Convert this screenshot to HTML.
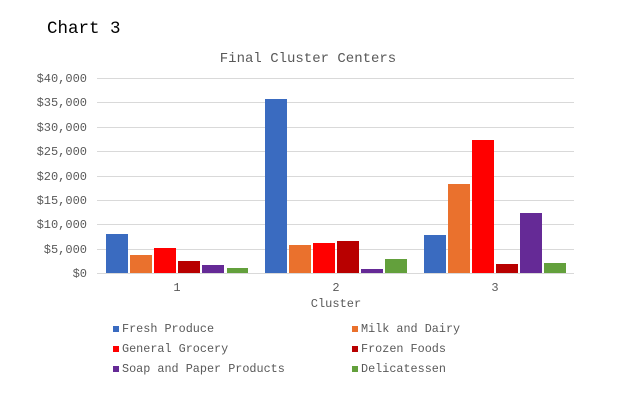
<!DOCTYPE html>
<html><head><meta charset="utf-8"><style>
html,body{margin:0;padding:0;background:#fff;}
svg{display:block;font-family:"Liberation Mono",monospace;}
</style></head><body>
<svg width="621" height="413" viewBox="0 0 621 413">
<rect width="621" height="413" fill="#fff"/>
<text x="47" y="33" font-size="17.5" fill="#000">Chart 3</text>
<text x="308" y="62" font-size="14" fill="#595959" text-anchor="middle">Final Cluster Centers</text>
<g stroke="#d9d9d9" stroke-width="1">
<line x1="97" x2="574" y1="78.5" y2="78.5"/>
<line x1="97" x2="574" y1="102.5" y2="102.5"/>
<line x1="97" x2="574" y1="127.5" y2="127.5"/>
<line x1="97" x2="574" y1="151.5" y2="151.5"/>
<line x1="97" x2="574" y1="176.5" y2="176.5"/>
<line x1="97" x2="574" y1="200.5" y2="200.5"/>
<line x1="97" x2="574" y1="224.5" y2="224.5"/>
<line x1="97" x2="574" y1="249.5" y2="249.5"/>
<line x1="97" x2="574" y1="273.5" y2="273.5"/>
</g>
<g font-size="12" fill="#595959" text-anchor="end">
<text x="87" y="82">$40,000</text>
<text x="87" y="106">$35,000</text>
<text x="87" y="131">$30,000</text>
<text x="87" y="155">$25,000</text>
<text x="87" y="180">$20,000</text>
<text x="87" y="204">$15,000</text>
<text x="87" y="228">$10,000</text>
<text x="87" y="253">$5,000</text>
<text x="87" y="277">$0</text>
</g>
<g>
<rect x="106" y="234" width="22" height="39" fill="#3a6bc0"/>
<rect x="130" y="255" width="22" height="18" fill="#ea712d"/>
<rect x="154" y="248" width="22" height="25" fill="#ff0000"/>
<rect x="178" y="261" width="22" height="12" fill="#b80000"/>
<rect x="202" y="265" width="22" height="8" fill="#652a96"/>
<rect x="227" y="268" width="21" height="5" fill="#63a03c"/>

<rect x="265" y="99" width="22" height="174" fill="#3a6bc0"/>
<rect x="289" y="245" width="22" height="28" fill="#ea712d"/>
<rect x="313" y="243" width="22" height="30" fill="#ff0000"/>
<rect x="337" y="241" width="22" height="32" fill="#b80000"/>
<rect x="361" y="269" width="22" height="4" fill="#652a96"/>
<rect x="385" y="259" width="22" height="14" fill="#63a03c"/>

<rect x="424" y="235" width="22" height="38" fill="#3a6bc0"/>
<rect x="448" y="184" width="22" height="89" fill="#ea712d"/>
<rect x="472" y="140" width="22" height="133" fill="#ff0000"/>
<rect x="496" y="264" width="22" height="9" fill="#b80000"/>
<rect x="520" y="213" width="22" height="60" fill="#652a96"/>
<rect x="544" y="263" width="22" height="10" fill="#63a03c"/>
</g>
<g font-size="12" fill="#595959" text-anchor="middle">
<text x="177" y="291">1</text>
<text x="336" y="291">2</text>
<text x="495" y="291">3</text>
<text x="336" y="307">Cluster</text>
</g>
<g font-size="11.8" fill="#595959">
<rect x="113" y="326" width="6" height="6" fill="#3a6bc0"/><text x="122" y="332">Fresh Produce</text>
<rect x="352" y="326" width="6" height="6" fill="#ea712d"/><text x="361" y="332">Milk and Dairy</text>
<rect x="113" y="346" width="6" height="6" fill="#ff0000"/><text x="122" y="352">General Grocery</text>
<rect x="352" y="346" width="6" height="6" fill="#b80000"/><text x="361" y="352">Frozen Foods</text>
<rect x="113" y="366" width="6" height="6" fill="#652a96"/><text x="122" y="372">Soap and Paper Products</text>
<rect x="352" y="366" width="6" height="6" fill="#63a03c"/><text x="361" y="372">Delicatessen</text>
</g>
</svg>
</body></html>
